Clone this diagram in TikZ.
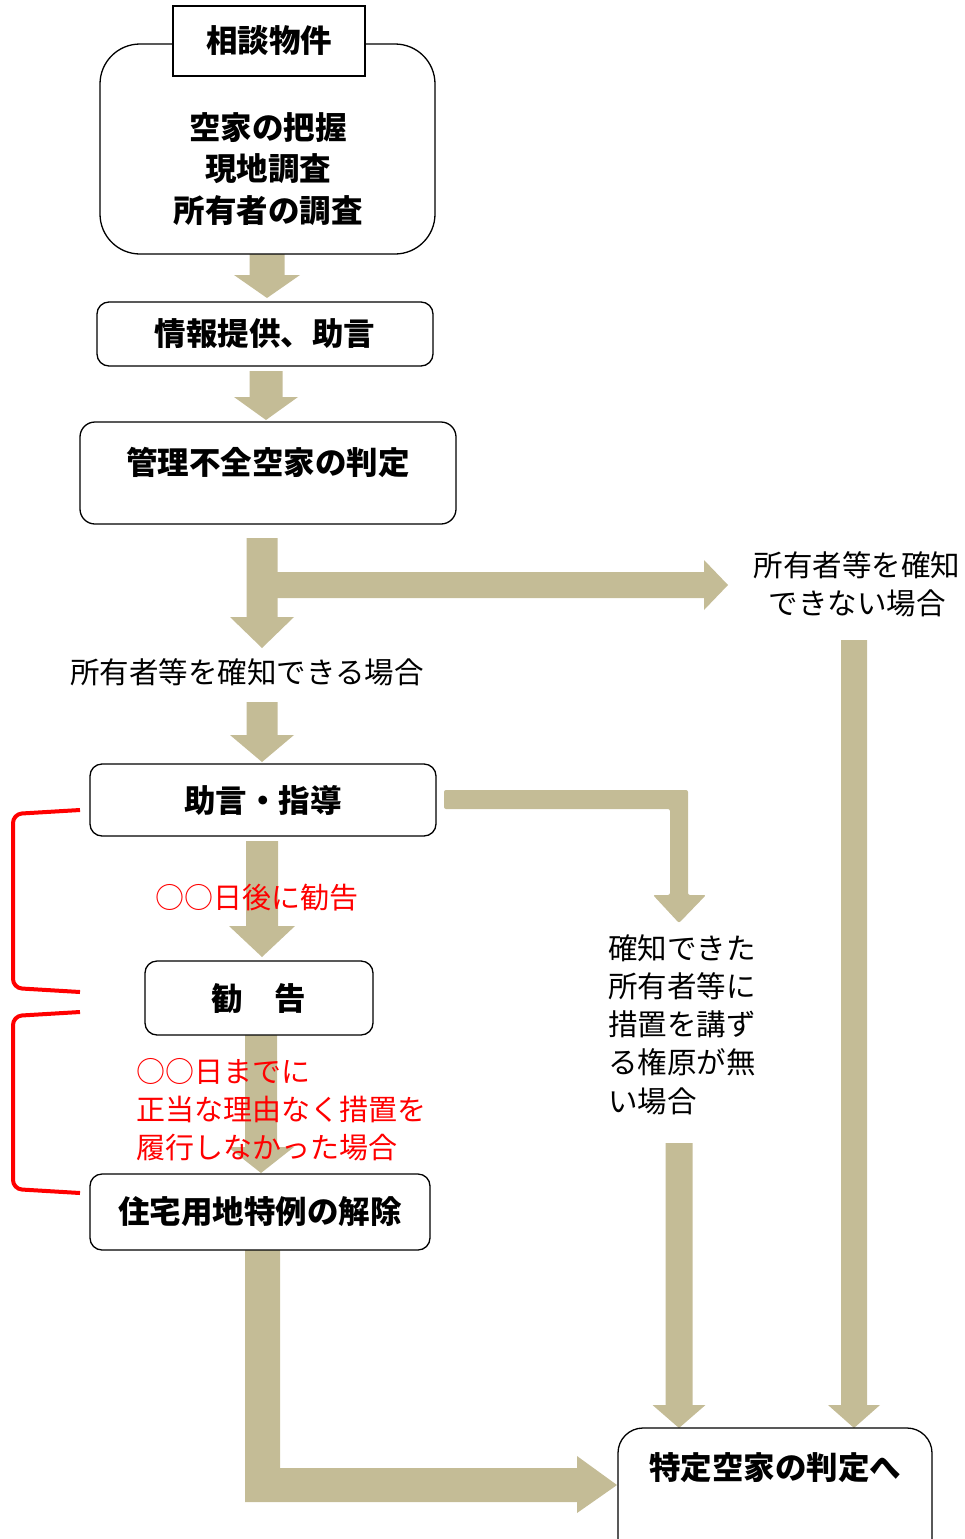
\documentclass[tikz,border=0pt]{standalone}
\usepackage{fontspec}
\newfontfamily\jp{Noto Sans CJK JP}
\definecolor{arrowtan}{HTML}{C4BC96}
\definecolor{myred}{HTML}{FF0000}
\newcommand\fatdown[6]{%
  \fill[arrowtan] ({#1-#4},#2) -- ({#1+#4},#2) -- ({#1+#4},{#3-#6}) -- ({#1+#5},{#3-#6}) -- (#1,#3) -- ({#1-#5},{#3-#6}) -- ({#1-#4},{#3-#6}) -- cycle;}
\tikzset{
  box/.style={draw, line width=1.3pt, rounded corners=12pt, fill=white, inner sep=0pt},
  btxt/.style={font=\jp\bfseries\fontsize{31.5}{41.5}\selectfont, align=center, inner sep=0pt},
  stxt/.style={font=\jp\fontsize{29.5}{38.3}\selectfont, inner sep=0pt},
  rtxt/.style={font=\jp\fontsize{29}{38}\selectfont, text=myred, inner sep=0pt},
  brk/.style={draw=myred, line width=4pt, rounded corners=9pt}
}
\begin{document}
\begin{tikzpicture}[x=1pt,y=-1pt]
\useasboundingbox (0,0) rectangle (965,1539);
% ---- arrows ----
\fatdown{267}{254}{298}{17.5}{33}{23}
\fatdown{266}{371}{420}{16.5}{32}{23}
\fatdown{262}{538}{648}{15.5}{32}{31}
\fill[arrowtan] (276,572) -- (704,572) -- (704,560) -- (728,585) -- (704,610) -- (704,598) -- (276,598) -- cycle;
\fatdown{262}{702}{762}{15.5}{32}{27}
\fatdown{262}{841}{957}{16}{33}{31}
\fatdown{261}{1035}{1173}{16}{33}{26}
\fill[arrowtan, rounded corners=2pt] (444,790) -- (688,790) -- (688,895) -- (706,895) -- (679,923) -- (653,895) -- (670,895) -- (670,809) -- (444,809) -- cycle;
\fatdown{679}{1143}{1428}{13.5}{26.5}{23}
\fatdown{854}{640}{1428}{13}{26}{23}
\fill[arrowtan] (245,1250) -- (280,1250) -- (280,1468) -- (577,1468) -- (577,1456) -- (617,1485) -- (577,1513) -- (577,1502) -- (245,1502) -- cycle;
% ---- boxes ----
\node[box, rounded corners=40pt, minimum width=335pt, minimum height=210pt] (big) at (267.5,149) {};
\node[box, rounded corners=0pt, minimum width=192pt, minimum height=70pt, btxt] (soudan) at (269,41) {相談物件};
\node[btxt] (bigtxt) at (268,169) {空家の把握\\現地調査\\所有者の調査};
\node[box, btxt, minimum width=336pt, minimum height=64pt] (joho) at (265,334) {情報提供、助言};
\node[box, rounded corners=15pt, minimum width=376pt, minimum height=102pt] (kanri) at (268,473) {};
\node[btxt] (kanritxt) at (268,462) {管理不全空家の判定};
\node[stxt] (kakuchi) at (247,672) {所有者等を確知できる場合};
\node[stxt, align=center] (fumei) at (857,584.5) {所有者等を確知\\できない場合};
\node[box, btxt, minimum width=346pt, minimum height=72pt] (jogen) at (263,800) {助言・指導};
\node[box, btxt, minimum width=228pt, minimum height=74pt] (kankoku) at (259,998) {勧　告};
\node[box, btxt, minimum width=340pt, minimum height=76pt] (jutaku) at (260,1212) {住宅用地特例の解除};
\node[box, rounded corners=25pt, minimum width=314pt, minimum height=140pt] (final) at (775,1498) {};
\node[btxt] (finaltxt) at (775,1468) {特定空家の判定へ};
\node[stxt, align=left, anchor=west] (kengen) at (608,1024.5) {確知できた\\所有者等に\\措置を講ず\\る権原が無\\い場合};
% ---- red texts ----
\node[rtxt] (r1) at (257,898) {○○日後に勧告};
\node[rtxt, align=left, anchor=west] (r2) at (136,1110) {○○日までに\\正当な理由なく措置を\\履行しなかった場合};
% ---- brackets ----
\draw[brk] (80,810) -- (13,814) -- (13,988) -- (80,992);
\draw[brk] (80,1012) -- (13,1016) -- (13,1189) -- (80,1193);
\end{tikzpicture}
\end{document}
